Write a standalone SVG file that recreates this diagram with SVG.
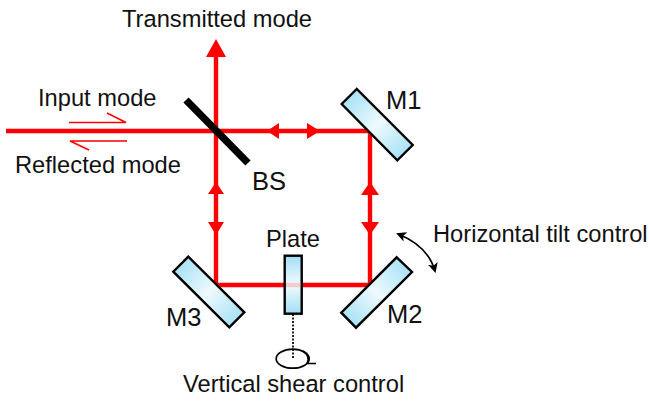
<svg xmlns="http://www.w3.org/2000/svg" width="649" height="401" viewBox="0 0 649 401">
<style>
text{font-family:"Liberation Sans",Arial,sans-serif;font-size:23.7px;fill:#111}
text.big{font-size:25.5px}
.beam{fill:none;stroke:#f00;stroke-width:4.4}
.head{fill:#f00;stroke:none}
.thin{fill:none;stroke:#f00;stroke-width:1.6}
.glass{fill:url(#g);stroke:#000;stroke-width:2.4;stroke-linejoin:miter}
.glassV{fill:url(#gv);stroke:#000;stroke-width:2.4}
</style>
<defs>
<linearGradient id="g" x1="0" y1="0" x2="1" y2="1"><stop offset="0" stop-color="#96dcf4"/><stop offset=".5" stop-color="#eefafd"/><stop offset="1" stop-color="#96dcf4"/></linearGradient>
<linearGradient id="g2" x1="1" y1="0" x2="0" y2="1"><stop offset="0" stop-color="#96dcf4"/><stop offset=".5" stop-color="#eefafd"/><stop offset="1" stop-color="#96dcf4"/></linearGradient>
<linearGradient id="gv" x1="0" y1="0" x2="0" y2="1"><stop offset="0" stop-color="#a0dff5"/><stop offset=".5" stop-color="#f2fbfe"/><stop offset="1" stop-color="#a0dff5"/></linearGradient>
<marker id="blk" viewBox="0 0 10 10" refX="8" refY="5" markerWidth="10" markerHeight="10" markerUnits="userSpaceOnUse" orient="auto-start-reverse"><path d="M0 0L10 5L0 10L2.5 5Z" fill="#000"/></marker>
</defs>
<g id="connectors">
<path class="beam" d="M6 131H371M216 55V285H370V131"/>
<path class="head" d="M216 39L226 57H206Z"/>
<path class="head" d="M267 131L279 123V139Z"/>
<path class="head" d="M320 131L307 123V139Z"/>
<path class="head" d="M216 182L208 194H224Z"/>
<path class="head" d="M216 235L208 222H224Z"/>
<path class="head" d="M370 182L361 195H379Z"/>
<path class="head" d="M370 235L361 222H379Z"/>
<path class="thin" d="M69 122.5H126L107 113"/>
<path class="thin" d="M127 141H70L89 150"/>
<path d="M293 314V358" fill="none" stroke="#222" stroke-width="2" stroke-dasharray="2 1.5"/>
<path d="M398 234Q428 246 435 271" fill="none" stroke="#000" stroke-width="1.7" marker-start="url(#blk)" marker-end="url(#blk)"/>
<ellipse cx="292.7" cy="358.7" rx="16.5" ry="9.5" fill="none" stroke="#000" stroke-width="1.7"/>
<path d="M303 351Q311 357 307 363.5H316" fill="none" stroke="#000" stroke-width="1.7"/>
</g>
<g id="BS"><path d="M186 100L248 163" stroke="#000" stroke-width="7.4" fill="none"/><text class="big" x="252" y="190">BS</text></g>
<g id="M1"><path class="glass" d="M356.7 89L341.7 104L397.3 160.3L412.7 145Z"/><text class="big" x="386" y="109">M1</text></g>
<g id="M2"><path class="glass" style="fill:url(#g2)" d="M396.7 257.3L412 272L356 327.7L341.3 312.7Z"/><text class="big" x="387" y="323">M2</text></g>
<g id="M3"><path class="glass" d="M188.3 256.7L173.3 271.7L229.3 327.3L244.3 312.3Z"/><text class="big" x="166" y="326">M3</text></g>
<g id="Plate"><rect class="glassV" x="284.7" y="255.7" width="17" height="58"/><rect x="286" y="282.8" width="14.4" height="4.4" fill="#f00" opacity=".18"/><text x="266" y="247">Plate</text></g>
<g id="labels">
<text x="122" y="27">Transmitted mode</text>
<text x="38" y="106">Input mode</text>
<text x="15" y="173">Reflected mode</text>
<text x="433" y="242">Horizontal tilt control</text>
<text x="183" y="392">Vertical shear control</text>
</g>
</svg>
